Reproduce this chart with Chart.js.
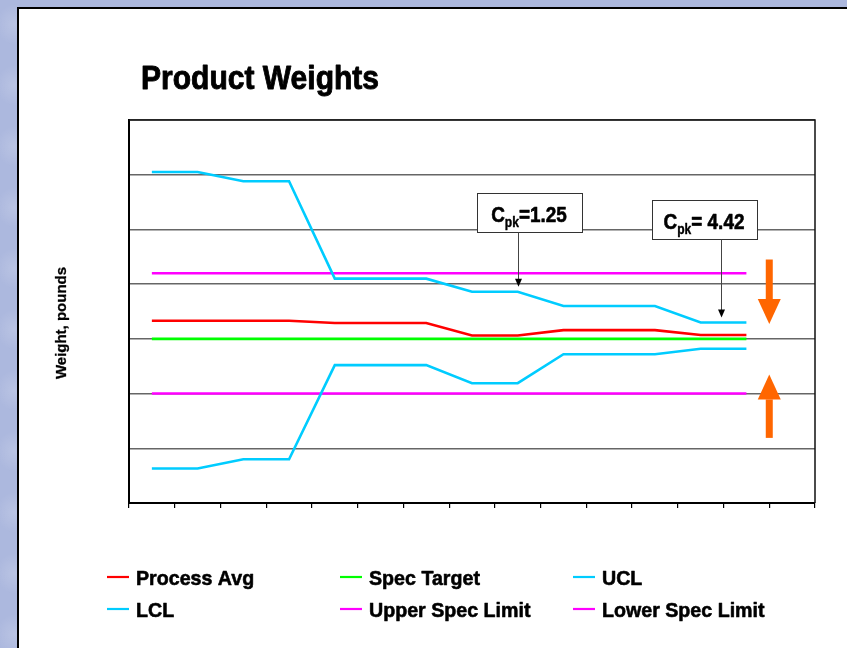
<!DOCTYPE html>
<html>
<head>
<meta charset="utf-8">
<title>Product Weights</title>
<script src="https://cdn.jsdelivr.net/npm/chart.js@4.4.1/dist/chart.umd.min.js"></script>
<style>
  html, body { margin: 0; padding: 0; width: 847px; height: 648px; overflow: hidden; }
  body {
    background-color: #acb8de;
    background-image:
      radial-gradient(ellipse at 30% 40%, rgba(255,255,255,0.16) 0, rgba(255,255,255,0) 18px),
      radial-gradient(ellipse at 70% 70%, rgba(80,90,160,0.08) 0, rgba(80,90,160,0) 22px),
      radial-gradient(ellipse at 45% 55%, rgba(255,255,255,0.10) 0, rgba(255,255,255,0) 26px);
    background-size: 47px 61px, 71px 53px, 89px 97px;
  }
  #panel {
    position: absolute; left: 17px; top: 7px; width: 850px; height: 660px;
    background: #fff; border: 2px solid #000; box-sizing: border-box;
  }
  #chart { position: absolute; left: 0; top: 0; }
</style>
</head>
<body>
<div id="panel"></div>
<canvas id="chart" width="847" height="648"></canvas>
<script>
// Sample groups along the x axis (the last slot is left open for the arrows)
const samples = ['1','2','3','4','5','6','7','8','9','10','11','12','13','14','15'];

// Weights in pounds for each sample group
const processAvg = [10.033, 10.033, 10.033, 10.033, 10.029, 10.029, 10.029, 10.006, 10.006, 10.016, 10.016, 10.016, 10.007, 10.007];
const specTarget = [10.0, 10.0, 10.0, 10.0, 10.0, 10.0, 10.0, 10.0, 10.0, 10.0, 10.0, 10.0, 10.0, 10.0];
const ucl        = [10.305, 10.305, 10.288, 10.288, 10.110, 10.110, 10.110, 10.086, 10.086, 10.060, 10.060, 10.060, 10.030, 10.030];
const lcl        = [9.763, 9.763, 9.780, 9.780, 9.952, 9.952, 9.952, 9.919, 9.919, 9.972, 9.972, 9.972, 9.982, 9.982];
const upperSpec  = [10.12, 10.12, 10.12, 10.12, 10.12, 10.12, 10.12, 10.12, 10.12, 10.12, 10.12, 10.12, 10.12, 10.12];
const lowerSpec  = [9.90, 9.90, 9.90, 9.90, 9.90, 9.90, 9.90, 9.90, 9.90, 9.90, 9.90, 9.90, 9.90, 9.90];

// Value axis range (pounds)
const yMin = 9.7, yMax = 10.4, yStep = 0.1;

// Process capability call-outs: sample position, value pointed at, text after "C pk"
const cpkAt     = [8, 12.45];
const cpkValue  = [10.086, 10.030];
const cpkText   = ['=1.25', '= 4.42'];

// Orange arrows showing the control limits closing in: [from, to] in pounds
const squeezeArrows = [[10.145, 10.027], [9.819, 9.935]];

const FONT = "'Liberation Sans', Arial, sans-serif";

const series = [
  { label: 'Process Avg',       data: processAvg, color: '#ff0000' },
  { label: 'Spec Target',       data: specTarget, color: '#00ff00' },
  { label: 'UCL',               data: ucl,        color: '#00ccff' },
  { label: 'LCL',               data: lcl,        color: '#00ccff' },
  { label: 'Upper Spec Limit',  data: upperSpec,  color: '#ff00ff' },
  { label: 'Lower Spec Limit',  data: lowerSpec,  color: '#ff00ff' }
];

// heavy bold text squeezed horizontally by sx (condensed look)
function narrowText(ctx, text, x, y, size, sx, weight) {
  ctx.save();
  ctx.font = 'bold ' + size + 'px ' + FONT;
  ctx.translate(x, y);
  ctx.scale(sx, 1);
  ctx.fillText(text, 0, 0);
  ctx.strokeStyle = ctx.fillStyle;
  ctx.lineWidth = weight || 0.6;
  ctx.lineJoin = 'round';
  ctx.strokeText(text, 0, 0);
  ctx.restore();
}
function narrowWidth(ctx, text, size, sx) {
  ctx.save();
  ctx.font = 'bold ' + size + 'px ' + FONT;
  const w = ctx.measureText(text).width * sx;
  ctx.restore();
  return w;
}

function arrowHead(ctx, x, tipY, dir, halfW, len) {
  ctx.beginPath();
  ctx.moveTo(x, tipY);
  ctx.lineTo(x - halfW, tipY - dir * len);
  ctx.lineTo(x + halfW, tipY - dir * len);
  ctx.closePath();
  ctx.fill();
}

const decorations = {
  id: 'decorations',
  afterDraw(chart) {
    const { ctx, chartArea: a, scales: { x, y } } = chart;
    ctx.save();

    // top and right edges of the plot frame
    ctx.strokeStyle = '#111';
    ctx.lineWidth = 1.5;
    ctx.beginPath();
    ctx.moveTo(a.left, a.top);
    ctx.lineTo(a.right, a.top);
    ctx.lineTo(a.right, a.bottom);
    ctx.stroke();

    // title
    ctx.fillStyle = '#000';
    ctx.textBaseline = 'alphabetic';
    ctx.textAlign = 'left';
    narrowText(ctx, 'Product Weights', 141, 89, 33, 0.91, 0.9);

    // value axis title
    ctx.save();
    ctx.translate(62, 323);
    ctx.rotate(-Math.PI / 2);
    ctx.textAlign = 'center';
    ctx.textBaseline = 'middle';
    narrowText(ctx, 'Weight, pounds', 0, 0, 15, 1, 0.3);
    ctx.restore();

    // Cpk call-outs
    const boxOffsets = [10.5, -17.5];
    const boxBottoms = [232, 239];
    cpkAt.forEach((pos, i) => {
      const ax = Math.round(x.getPixelForValue(pos)) + 0.5;
      const tipY = y.getPixelForValue(cpkValue[i]) - 5;
      const bw = 105, bh = 39;
      const cx = ax + boxOffsets[i];
      const bx = Math.round(cx - bw / 2) + 0.5;
      const by = boxBottoms[i] - bh + 0.5;

      ctx.fillStyle = '#fff';
      ctx.fillRect(bx, by, bw, bh);
      ctx.strokeStyle = '#333';
      ctx.lineWidth = 1;
      ctx.strokeRect(bx, by, bw, bh);

      // text: C with subscript pk, then the value
      ctx.fillStyle = '#000';
      ctx.textAlign = 'left';
      ctx.textBaseline = 'alphabetic';
      const big = 22, small = 14, sx = 0.86;
      const wC = narrowWidth(ctx, 'C', big, sx);
      const wS = narrowWidth(ctx, 'pk', small, sx);
      const wR = narrowWidth(ctx, cpkText[i], big, sx);
      let tx = cx - (wC + wS + wR) / 2;
      const base = by + 28;
      narrowText(ctx, 'C', tx, base, big, sx); tx += wC;
      narrowText(ctx, 'pk', tx, base + 5, small, sx, 0.4); tx += wS;
      narrowText(ctx, cpkText[i], tx, base, big, sx);

      // pointer
      ctx.strokeStyle = '#444';
      ctx.lineWidth = 1;
      ctx.beginPath();
      ctx.moveTo(ax, by + bh);
      ctx.lineTo(ax, tipY - 6);
      ctx.stroke();
      ctx.fillStyle = '#000';
      arrowHead(ctx, ax, tipY, 1, 3.5, 8);
    });

    // orange arrows between the last sample and the right edge
    const ox = x.getPixelForValue(13.5);
    ctx.fillStyle = '#ff6600';
    squeezeArrows.forEach(([from, to]) => {
      const y0 = y.getPixelForValue(from), y1 = y.getPixelForValue(to);
      const dir = y1 > y0 ? 1 : -1;
      const headLen = 25;
      ctx.fillRect(ox - 3.5, Math.min(y0, y1 - dir * headLen), 7, Math.abs(y1 - dir * headLen - y0));
      arrowHead(ctx, ox, y1, dir, 11.5, headLen);
    });

    // legend: three columns, two rows
    const cols = [107, 340, 573], rows = [577, 609];
    ctx.textBaseline = 'alphabetic';
    ctx.textAlign = 'left';
    chart.data.datasets.forEach((ds, i) => {
      const lx = cols[i % 3], ly = rows[Math.floor(i / 3)];
      ctx.strokeStyle = ds.borderColor;
      ctx.lineWidth = 2.2;
      ctx.beginPath();
      ctx.moveTo(lx, ly);
      ctx.lineTo(lx + 22, ly);
      ctx.stroke();
      ctx.fillStyle = '#000';
      narrowText(ctx, ds.label, lx + 29, ly + 8, 21, 0.935, 0.6);
    });

    ctx.restore();
  }
};

new Chart(document.getElementById('chart'), {
  type: 'line',
  data: {
    labels: samples,
    datasets: series.map(s => ({
      label: s.label,
      data: s.data,
      borderColor: s.color,
      backgroundColor: s.color,
      borderWidth: 2.6,
      pointRadius: 0,
      pointHoverRadius: 0,
      tension: 0,
      fill: false
    }))
  },
  options: {
    responsive: false,
    animation: false,
    events: [],
    layout: { padding: { left: 129, right: 32, top: 120, bottom: 140 } },
    plugins: {
      legend: { display: false },
      title: { display: false },
      tooltip: { enabled: false }
    },
    scales: {
      x: {
        type: 'category',
        offset: true,
        grid: {
          offset: true,
          drawOnChartArea: false,
          drawTicks: true,
          tickLength: 5,
          color: '#000',
          lineWidth: 1.2
        },
        border: { display: true, color: '#000', width: 2 },
        ticks: { display: false }
      },
      y: {
        min: yMin,
        max: yMax,
        ticks: { display: false, stepSize: yStep },
        grid: { color: '#666', lineWidth: 1.5, drawTicks: false },
        border: { display: true, color: '#000', width: 2 }
      }
    }
  },
  plugins: [decorations]
});
</script>
</body>
</html>
